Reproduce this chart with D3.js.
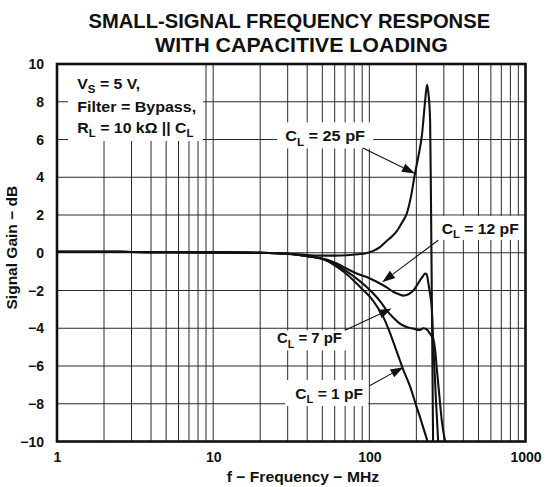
<!DOCTYPE html>
<html><head><meta charset="utf-8">
<script src="https://cdn.jsdelivr.net/npm/d3@7"></script>
<style>
body{margin:0;background:#fff}
svg{display:block}
text{font-family:"Liberation Sans",Arial,Helvetica,sans-serif;font-weight:bold;fill:#111}
</style>
</head><body>
<svg id="c" width="547" height="487"></svg>
<script>
// ---------- data ----------
const freqTicks = [1, 10, 100, 1000];
const gainTicks = [-10, -8, -6, -4, -2, 0, 2, 4, 6, 8, 10];
const seriesNames = ["CL = 25 pF", "CL = 12 pF", "CL = 7 pF", "CL = 1 pF"];

const f25 = [1, 2, 3, 5, 10, 20, 30, 40, 50, 60, 72, 85, 95, 106, 117, 129, 140, 150, 162, 174, 185, 196, 206, 217, 228, 234, 239, 245, 248, 252, 256];
const g25 = [0.05, 0.05, 0.04, 0.03, 0.02, 0, -0.06, -0.12, -0.15, -0.15, -0.13, -0.08, -0.03, 0.1, 0.3, 0.62, 0.88, 1.15, 1.6, 2.1, 3.0, 4.2, 5.1, 6.2, 8.1, 8.9, 8.45, 7.0, 3.0, -3.5, -10];

const f12 = [1, 2, 3, 5, 10, 20, 30, 40, 50, 56, 62, 72, 83, 100, 117, 130, 143, 155, 165, 178, 192, 211, 220, 228, 233, 239, 245, 251, 258, 267, 276];
const g12 = [0.05, 0.05, 0.04, 0.03, 0.02, 0, -0.05, -0.18, -0.32, -0.42, -0.57, -0.85, -1.1, -1.35, -1.63, -1.85, -2.08, -2.2, -2.27, -2.2, -1.99, -1.46, -1.25, -1.1, -1.15, -1.63, -2.2, -2.9, -5.2, -7.8, -10];

const f7 = [1, 2, 3, 5, 10, 20, 30, 40, 50, 62, 72, 83, 95, 106, 118, 129, 143, 157, 175, 192, 210, 222, 234, 245, 252, 258, 265, 271, 281, 291, 306];
const g7 = [0.05, 0.05, 0.04, 0.03, 0.02, 0, -0.05, -0.18, -0.32, -0.66, -1.0, -1.37, -1.78, -2.16, -2.6, -3.05, -3.45, -3.76, -3.95, -4.02, -4.1, -4.0, -4.07, -4.3, -4.45, -4.64, -5.3, -6.23, -7.6, -8.89, -10];

const f1 = [1, 2, 3, 5, 10, 20, 30, 40, 50, 62, 72, 83, 92, 101, 112, 123, 135, 150, 165, 183, 197, 211, 224, 236];
const g1 = [0.05, 0.05, 0.04, 0.03, 0.02, 0, -0.05, -0.18, -0.32, -0.75, -1.15, -1.63, -2.0, -2.34, -2.85, -3.41, -4.2, -5.25, -6.2, -7.12, -7.95, -8.71, -9.4, -10];

// ---------- layout ----------
const W = 547, H = 487;
const L = 57, R = 525.5, T = 64, B = 441.5;
const svg = d3.select("#c");
const x = d3.scaleLog().domain([1, 1000]).range([L, R]);
const y = d3.scaleLinear().domain([-10, 10]).range([B, T]);

// rich text helper: parts are strings or {sub:"..."}; stretched to target width
function richText(parent, parts, size, px, py, width, anchor, rotate) {
  const g = parent.append("g");
  const t = g.append("text").attr("font-size", size);
  let cur = 0;
  parts.forEach(p => {
    const s = t.append("tspan");
    if (typeof p === "string") {
      s.attr("dy", -cur).text(p); cur = 0;
    } else {
      const off = size * 0.28;
      s.attr("dy", off - cur).attr("font-size", size * 0.72).text(p.sub); cur = off;
    }
  });
  const w = t.node().getBBox().width;
  const k = width ? width / w : 1;
  const ww = w * k;
  const dx = anchor === "middle" ? -ww / 2 : anchor === "end" ? -ww : 0;
  g.attr("transform", `translate(${px},${py}) rotate(${rotate || 0}) translate(${dx},0) scale(${k},1)`);
  return g;
}

// ---------- grid ----------
const grid = svg.append("g");
const vlines = [];
[1, 10, 100].forEach(d => { for (let m = 1; m <= 9; m++) { const v = m * d; if (v > 1) vlines.push(v); } });
vlines.push(1000);
grid.selectAll("line.v").data(vlines.filter(v => v < 1000)).join("line")
  .attr("x1", d => x(d)).attr("x2", d => x(d)).attr("y1", T).attr("y2", B)
  .attr("stroke", "#2a2a2a").attr("stroke-width", 1);
grid.selectAll("line.h").data(gainTicks.filter(v => v > -10 && v < 10)).join("line")
  .attr("x1", L).attr("x2", R).attr("y1", d => y(d)).attr("y2", d => y(d))
  .attr("stroke", "#2a2a2a").attr("stroke-width", 1);

// ---------- curves ----------
const allF = [f25, f12, f7, f1], allG = [g25, g12, g7, g1];
const series = seriesNames.map((n, i) => ({ name: n, pts: allF[i].map((f, j) => [f, allG[i][j]]) }));
svg.append("clipPath").attr("id", "clip").append("rect").attr("x", L).attr("y", T).attr("width", R - L).attr("height", B - T);
const line = d3.line().x(d => x(d[0])).y(d => y(d[1])).curve(d3.curveMonotoneX);
svg.append("g").attr("clip-path", "url(#clip)")
  .selectAll("path").data(series).join("path")
  .attr("d", d => line(d.pts)).attr("fill", "none").attr("stroke", "#111")
  .attr("stroke-width", 2.1).attr("stroke-linejoin", "round");

// ---------- annotation box (top-left) ----------
svg.append("rect").attr("x", 68).attr("y", T + 1).attr("width", 135).attr("height", 76).attr("fill", "#fff");
const ann = svg.append("g");
richText(ann, ["V", { sub: "S" }, " = 5 V,"], 14.5, 77.3, 89.3, 63, "start");
richText(ann, ["Filter = Bypass,"], 14.5, 77.3, 111.5, 119, "start");
richText(ann, ["R", { sub: "L" }, " = 10 k\u03A9 || C", { sub: "L" }], 14.5, 77.3, 133, 117, "start");

// ---------- series labels with arrows ----------
const labels = [
  { parts: ["C", { sub: "L" }, " = 25 pF"], tf: 28.9, tg: 5.9, w: 80, box: [-8, -19, 16, 26], tail: [91, 5.55], tip: [196, 4.2] },
  { parts: ["C", { sub: "L" }, " = 12 pF"], tf: 291, tg: 1.0, w: 77, box: [-5, -18, 10, 24], tail: [276, 0.66], tip: [120.8, -1.56] },
  { parts: ["C", { sub: "L" }, " = 7 pF"], tf: 25.6, tg: -4.8, w: 65, box: [-6, -13, 11, 20], tail: [70, -4.1], tip: [139, -2.96] },
  { parts: ["C", { sub: "L" }, " = 1 pF"], tf: 33.5, tg: -7.75, w: 68, box: [-10, -19, 15, 26], tail: [101, -7.03], tip: [165.4, -6.06] }
];
const lab = svg.append("g");
labels.forEach(l => {
  const tx = x(l.tf), ty = y(l.tg);
  lab.append("rect").attr("x", tx + l.box[0]).attr("y", ty + l.box[1])
    .attr("width", l.w + l.box[2]).attr("height", l.box[3]).attr("fill", "#fff");
});
labels.forEach(l => {
  const tx = x(l.tf), ty = y(l.tg);
  richText(lab, l.parts, 15, tx, ty, l.w, "start");
  const x0 = x(l.tail[0]), y0 = y(l.tail[1]), x1 = x(l.tip[0]), y1 = y(l.tip[1]);
  const ang = Math.atan2(y1 - y0, x1 - x0);
  const hl = 13, hw = 4.5;
  const bx = x1 - hl * Math.cos(ang), by = y1 - hl * Math.sin(ang);
  lab.append("line").attr("x1", x0).attr("y1", y0).attr("x2", bx).attr("y2", by)
    .attr("stroke", "#111").attr("stroke-width", 1.1);
  const pts = [[x1, y1], [bx + hw * Math.sin(ang), by - hw * Math.cos(ang)], [bx - hw * Math.sin(ang), by + hw * Math.cos(ang)]];
  lab.append("polygon").attr("points", pts.map(p => p.join(",")).join(" ")).attr("fill", "#111");
});

// ---------- frame ----------
svg.append("rect").attr("x", L).attr("y", T).attr("width", R - L).attr("height", B - T)
  .attr("fill", "none").attr("stroke", "#111").attr("stroke-width", 2.6);

// ---------- axes ----------
const ya = svg.append("g").attr("transform", `translate(${L},0)`)
  .call(d3.axisLeft(y).tickValues(gainTicks).tickSize(0).tickPadding(13).tickFormat(d3.format("d")));
const xa = svg.append("g").attr("transform", `translate(0,${B})`)
  .call(d3.axisBottom(x).tickValues(freqTicks).tickSize(0).tickPadding(11).tickFormat(d3.format("d")));
[ya, xa].forEach(a => {
  a.select(".domain").remove();
  a.attr("font-family", null).attr("font-size", null);
  a.selectAll("text").attr("font-size", 14).attr("fill", "#111");
});
ya.selectAll("text").attr("dy", "0.33em");

// ---------- titles ----------
richText(svg, ["SMALL-SIGNAL FREQUENCY RESPONSE"], 19.5, 88.5, 28, 402, "start");
richText(svg, ["WITH CAPACITIVE LOADING"], 19.5, 155, 52.3, 293, "start");
richText(svg, ["f \u2212 Frequency \u2212 MHz"], 15, 226.7, 482, 152.6, "start");
richText(svg, ["Signal Gain \u2212 dB"], 15, 17, 247.5, 124, "middle", -90);
</script>
</body></html>
